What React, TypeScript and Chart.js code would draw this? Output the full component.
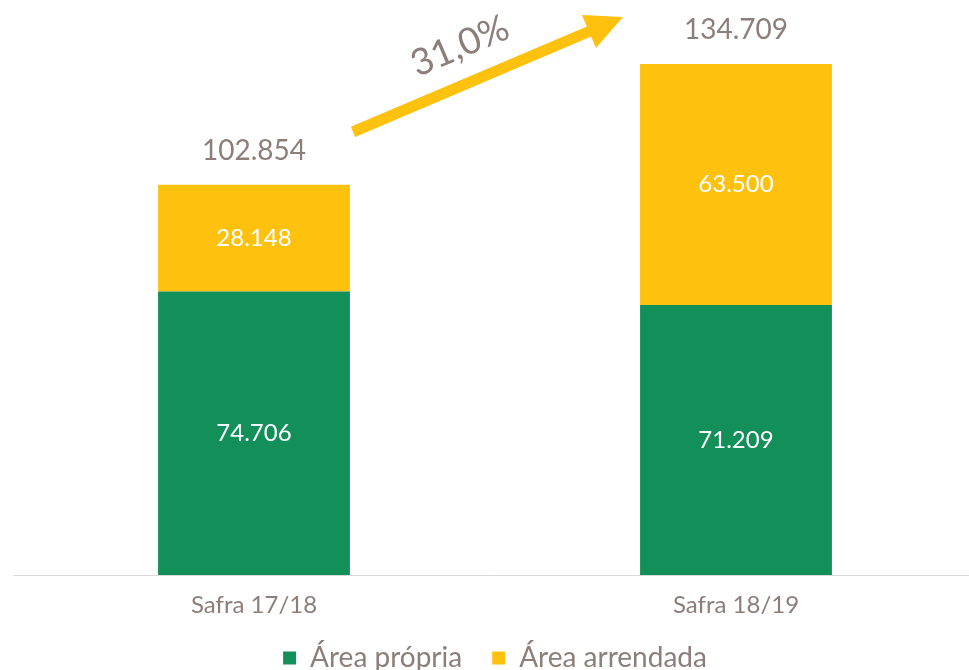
import { useEffect, useRef } from "react";
import { Chart, registerables } from "chart.js";

Chart.register(...registerables);

const categories = ["Safra 17/18", "Safra 18/19"];
const seriesNames = ["Área própria", "Área arrendada"];
const areaPropria = [74706, 71209];
const areaArrendada = [28148, 63500];

const GREEN = "#138f5a";
const YELLOW = "#fdc10e";
const TEXT = "#8c7e79";
const FONT = "Lato, 'Open Sans', sans-serif";

const fmt = (v: number) =>
  Math.round(v)
    .toString()
    .replace(/\B(?=(\d{3})+(?!\d))/g, ".");

const totals = categories.map((_, i) => areaPropria[i] + areaArrendada[i]);
const growth = ((totals[1] / totals[0] - 1) * 100).toFixed(1).replace(".", ",") + "%";

const labelsPlugin = {
  id: "labelsPlugin",
  afterDatasetsDraw(chart: any) {
    const ctx = chart.ctx;
    ctx.save();
    ctx.textAlign = "center";
    ctx.textBaseline = "middle";
    chart.data.datasets.forEach((ds: any, di: number) => {
      const meta = chart.getDatasetMeta(di);
      meta.data.forEach((el: any, i: number) => {
        const v = ds.data[i];
        ctx.fillStyle = "#ffffff";
        ctx.font = `24px ${FONT}`;
        ctx.fillText(fmt(v), el.x, (el.y + el.base) / 2);
      });
    });
    const top = chart.getDatasetMeta(chart.data.datasets.length - 1);
    top.data.forEach((el: any, i: number) => {
      ctx.fillStyle = TEXT;
      ctx.font = `28px ${FONT}`;
      ctx.fillText(fmt(totals[i]), el.x, el.y - 34);
    });

    // growth arrow
    const a = top.data[0];
    const b = top.data[1];
    if (a && b) {
      const tx = a.x + 99;
      const ty = a.y - 53;
      const hx = b.x - 113;
      const hy = b.y - 47;
      const dx = hx - tx;
      const dy = hy - ty;
      const len = Math.hypot(dx, dy);
      const ux = dx / len;
      const uy = dy / len;
      const nx = -uy;
      const ny = ux;
      const headLen = 37;
      const headHalf = 18;
      const bx = hx - ux * headLen;
      const by = hy - uy * headLen;
      ctx.strokeStyle = YELLOW;
      ctx.lineWidth = 11;
      ctx.lineCap = "butt";
      ctx.beginPath();
      ctx.moveTo(tx, ty);
      ctx.lineTo(bx + ux * 2, by + uy * 2);
      ctx.stroke();
      ctx.fillStyle = YELLOW;
      ctx.beginPath();
      ctx.moveTo(hx, hy);
      ctx.lineTo(bx + nx * headHalf, by + ny * headHalf);
      ctx.lineTo(bx - nx * headHalf, by - ny * headHalf);
      ctx.closePath();
      ctx.fill();

      const t = 0.45;
      const d = 37;
      const upx = uy;
      const upy = -ux;
      const px = tx + dx * t + upx * d;
      const py = ty + dy * t + upy * d;
      ctx.save();
      ctx.translate(px, py);
      ctx.rotate(Math.atan2(dy, dx));
      ctx.fillStyle = TEXT;
      ctx.font = `37px ${FONT}`;
      ctx.textAlign = "center";
      ctx.textBaseline = "middle";
      ctx.fillText(growth, 0, 0);
      ctx.restore();
    }
    ctx.restore();
  },
};

export default function App() {
  const ref = useRef<HTMLCanvasElement>(null);
  useEffect(() => {
    if (!ref.current) return;
    const chart = new Chart(ref.current, {
      type: "bar",
      data: {
        labels: categories,
        datasets: [
          {
            label: seriesNames[0],
            data: areaPropria,
            backgroundColor: GREEN,
            categoryPercentage: 1,
            barPercentage: 0.398,
          },
          {
            label: seriesNames[1],
            data: areaArrendada,
            backgroundColor: YELLOW,
            categoryPercentage: 1,
            barPercentage: 0.398,
          },
        ],
      },
      options: {
        responsive: false,
        animation: false,
        layout: { padding: { top: 6, left: 13, right: 0, bottom: -12 } },
        scales: {
          x: {
            stacked: true,
            grid: { display: false },
            border: { display: true, color: "#d9d9d9", width: 1 },
            ticks: {
              color: TEXT,
              font: { family: FONT, size: 24, lineHeight: 0.583 },
              padding: 15,
            },
            afterFit: (scale: any) => {
              scale.height = scale.height - 13;
            },
          },
          y: {
            stacked: true,
            display: false,
            min: 0,
            max: 150000,
          },
        },
        plugins: {
          legend: {
            position: "bottom",
            labels: {
              boxWidth: 13,
              boxHeight: 13,
              color: TEXT,
              font: { family: FONT, size: 28 },
              padding: 30,
            },
          },
          tooltip: { enabled: false },
        },
      },
      plugins: [labelsPlugin],
    });
    return () => chart.destroy();
  }, []);
  return (
    <div
      style={{
        position: "fixed",
        left: 0,
        top: 0,
        width: 969,
        height: 670,
        overflow: "hidden",
        background: "#ffffff",
      }}
    >
      <canvas ref={ref} width={977} height={670} style={{ width: 977, height: 670, display: "block" }} />
    </div>
  );
}
